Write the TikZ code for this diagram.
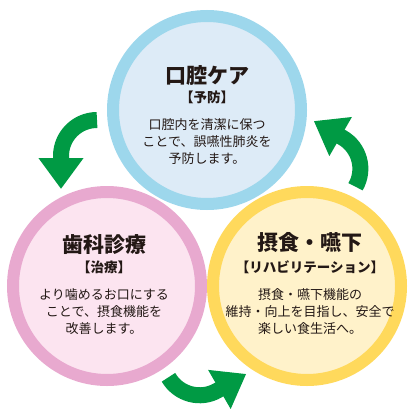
\documentclass[tikz,border=0pt]{standalone}
\usepackage{fontspec}
\setmainfont{Noto Sans CJK JP}
\usepackage{tikz}
\usetikzlibrary{arrows.meta}
\definecolor{ringblue}{HTML}{9DD7EC}
\definecolor{fillblue}{HTML}{DDEBF7}
\definecolor{ringpink}{HTML}{E8A9CF}
\definecolor{fillpink}{HTML}{FCE4F0}
\definecolor{ringyellow}{HTML}{FFD95C}
\definecolor{fillyellow}{HTML}{FFF2CA}
\definecolor{arrowgreen}{HTML}{009A44}
\definecolor{inktext}{HTML}{231815}
\tikzset{
x=1pt, y=1pt, % one unit is one pixel of the target
ring/.style={circle, line width=12pt, minimum size=188pt, inner sep=0pt}, % the three big circles
headtext/.style={text=inktext, font=\fontsize{21}{24}\selectfont\bfseries}, % name of each step
tagtext/.style={text=inktext, font=\fontsize{13.5}{16}\selectfont\bfseries}, % the word in brackets
bodytext/.style={text=inktext, align=center, font=\fontsize{13}{17}\selectfont}, % the short explanation
cyclearrow/.style={draw=arrowgreen, line width=16pt, -{Triangle[length=31pt, width=43pt]}}, % green arrows between steps
}
\begin{document}
\begin{tikzpicture}
    \useasboundingbox (0,0) rectangle (419,408);
    \node[ring, draw=ringblue, fill=fillblue] at (207,298) (care) {};
    \node[ring, draw=ringpink, fill=fillpink] at (107,122) (treat) {};
    \node[ring, draw=ringyellow, fill=fillyellow] at (307,122) (rehab) {};

    \node[headtext] at (207,333) (carehead) {口腔ケア};
    \node[tagtext] at (207,311) (caretag) {【予防】};
    \node[bodytext] at (207,266) (carebody) {口腔内を清潔に保つ\\ことで、誤嚥性肺炎を\\予防します。};

    \node[headtext] at (104,163) (treathead) {歯科診療};
    \node[tagtext] at (104,141) (treattag) {【治療】};
    \node[bodytext] at (104,96) (treatbody) {より噛めるお口にする\\ことで、摂食機能を\\改善します。};

    \node[headtext] at (310,165) (rehabhead) {摂食・嚥下};
    \node[tagtext] at (310,141) (rehabtag) {【リハビリテーション】};
    \node[bodytext] at (310,96) (rehabbody) {摂食・嚥下機能の\\維持・向上を目指し、安全で\\楽しい食生活へ。};

    \coordinate (hub) at (207,180);
    \foreach \turn in {0,120,240}
        \draw[cyclearrow, rotate around={\turn:(hub)}]
        (97,288) arc[start angle=90, end angle=180, radius=36] -- ++(0,-33);
\end{tikzpicture}
\end{document}
